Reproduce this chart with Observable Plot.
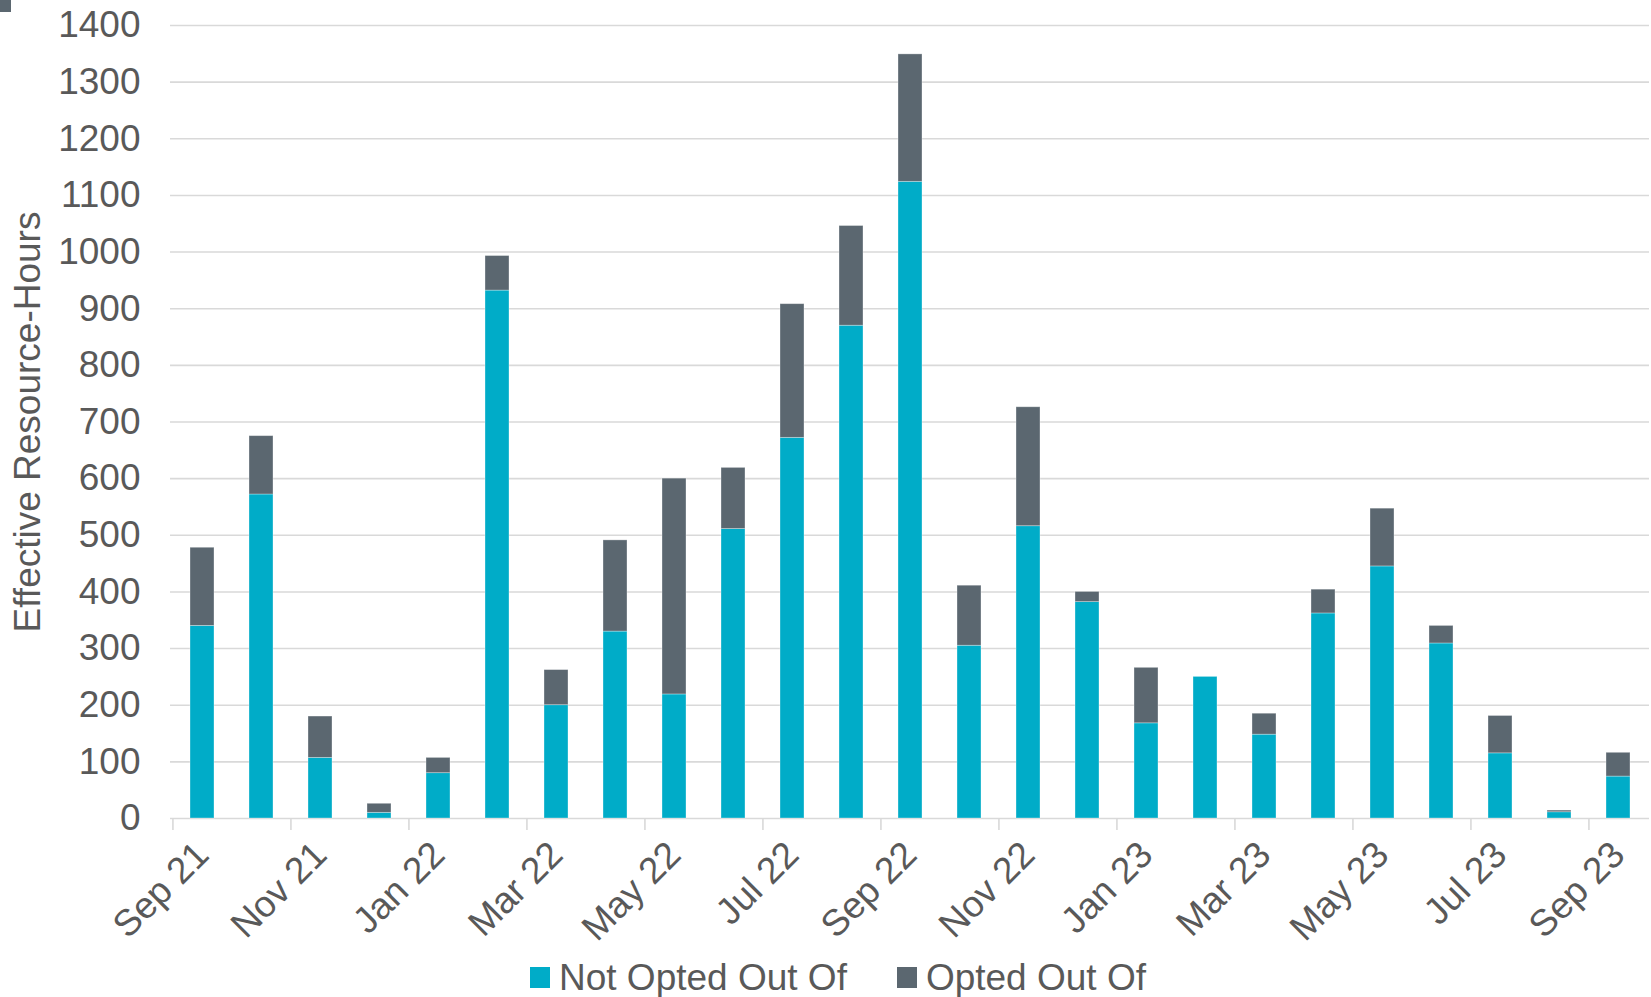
<!DOCTYPE html>
<html><head><meta charset="utf-8">
<script src="https://cdn.jsdelivr.net/npm/d3@7"></script>
<script src="https://cdn.jsdelivr.net/npm/@observablehq/plot@0.6"></script>
<style>
html,body{margin:0;padding:0;overflow:hidden;background:#fff;}
#wrap{position:relative;width:1651px;height:997px;font-family:"Liberation Sans",Arial,sans-serif;color:#595959;}
#corner{position:absolute;left:0;top:0;width:11px;height:12px;background:#5B6770;}
#legend{display:flex;align-items:center;height:47px;padding-top:4px;padding-left:530px;font-size:37px;line-height:47px;box-sizing:content-box;}
.sw{width:20px;height:21px;margin-right:9px;flex:none;}
.item{display:flex;align-items:center;margin-right:50px;white-space:nowrap;}
</style></head><body>
<div id="wrap"><div id="chart"></div><div id="legend"></div><div id="corner"></div></div>
<script>
const months = ["Sep 21","Oct 21","Nov 21","Dec 21","Jan 22","Feb 22","Mar 22","Apr 22","May 22","Jun 22","Jul 22","Aug 22","Sep 22","Oct 22","Nov 22","Dec 22","Jan 23","Feb 23","Mar 23","Apr 23","May 23","Jun 23","Jul 23","Aug 23","Sep 23"];
const tickLabels = ["Sep 21","Nov 21","Jan 22","Mar 22","May 22","Jul 22","Sep 22","Nov 22","Jan 23","Mar 23","May 23","Jul 23","Sep 23"];
const seriesNames = ["Not Opted Out Of","Opted Out Of"];
const notOptedOut = [340,572,107,10,80,932,200,330,219,511,672,870,1124,305,516,382,168,250,148,362,445,309,115,11,74];
const optedOut    = [138,103,73,16,27,61,62,161,381,108,236,176,225,106,210,18,98,0,37,42,102,31,66,3,42];
const yTicks = [0,100,200,300,400,500,600,700,800,900,1000,1100,1200,1300,1400];
const yLabel = "Effective Resource-Hours";
const colors = ["#00ACC8","#5B6770"];

const table = [];
months.forEach((m, i) => {
  table.push({month: m, series: seriesNames[0], value: notOptedOut[i]});
  table.push({month: m, series: seriesNames[1], value: optedOut[i]});
});

const W = 1651, H = 950, mL = 170, mR = 2, mT = 25, mB = 132;
const step = (W - mL - mR) / months.length;
const grid = "#d9d9d9";

const chart = Plot.plot({
  width: W, height: H,
  marginLeft: mL, marginRight: mR, marginTop: mT, marginBottom: mB,
  style: {fontFamily: "'Liberation Sans', Arial, sans-serif", fontSize: "37px", color: "#595959", background: "#fff"},
  x: {type: "band", domain: months, paddingInner: 0.6, paddingOuter: 0.3},
  y: {domain: [0, 1400]},
  color: {domain: seriesNames, range: colors},
  marks: [
    Plot.ruleY(yTicks, {stroke: grid, strokeWidth: 1.6}),
    Plot.barY(table, {x: "month", y: "value", fill: "series", stroke: "#fff", strokeWidth: 0.8, strokeOpacity: 0.4}),
    Plot.axisY(yTicks, {tickSize: 0, tickPadding: 30, fontSize: 37, tickFormat: d => String(d), label: null}),
    Plot.axisX(tickLabels, {tickSize: 0, tickPadding: 30, tickRotate: -45, fontSize: 37, label: null}),
    Plot.axisX(tickLabels, {tickSize: 12, tickFormat: () => "", dx: -step / 2, stroke: grid, strokeWidth: 1.6, label: null}),
    Plot.text([yLabel], {text: d => d, frameAnchor: "left", rotate: -90, dx: -142, textAnchor: "middle", fontSize: 37, fill: "#595959"})
  ]
});
document.getElementById("chart").appendChild(chart);

const legend = document.getElementById("legend");
seriesNames.forEach((s, i) => {
  const item = document.createElement("div");
  item.className = "item";
  const sw = document.createElement("div");
  sw.className = "sw";
  sw.style.background = colors[i];
  const t = document.createElement("span");
  t.textContent = s;
  item.appendChild(sw);
  item.appendChild(t);
  legend.appendChild(item);
});
</script>
</body></html>
